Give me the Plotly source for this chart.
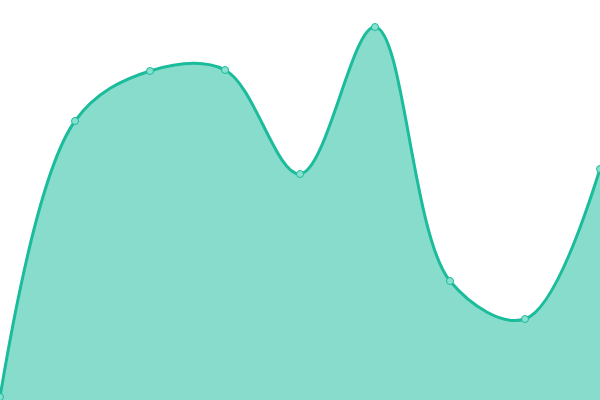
import plotly.graph_objects as go

# data
x_vals = [0, 1, 2, 3, 4, 5, 6, 7, 8]
y_vals = [3, 279, 329, 330, 226, 373, 119, 81, 231]

line_color = "#1abc9c"
fill_color = "rgba(26,188,156,0.52)"

fig = go.Figure()
fig.add_trace(go.Scatter(
    x=x_vals,
    y=y_vals,
    mode="lines+markers",
    line=dict(color=line_color, width=3, shape="spline", smoothing=1.0),
    fill="tozeroy",
    fillcolor=fill_color,
    marker=dict(size=7, color="#88e0cf", line=dict(color=line_color, width=1)),
    cliponaxis=False,
    hoverinfo="x+y",
))

fig.update_layout(
    width=600,
    height=400,
    margin=dict(l=0, r=0, t=0, b=0),
    paper_bgcolor="white",
    plot_bgcolor="white",
    showlegend=False,
    xaxis=dict(range=[0, 8], visible=False, fixedrange=True),
    yaxis=dict(range=[0, 400], visible=False, fixedrange=True),
)

# drop the default page margin so the chart sits flush in the window
fig.write_html(
    "out.html",
    config={"displayModeBar": False},
    post_script="document.body.style.margin='0';",
)
